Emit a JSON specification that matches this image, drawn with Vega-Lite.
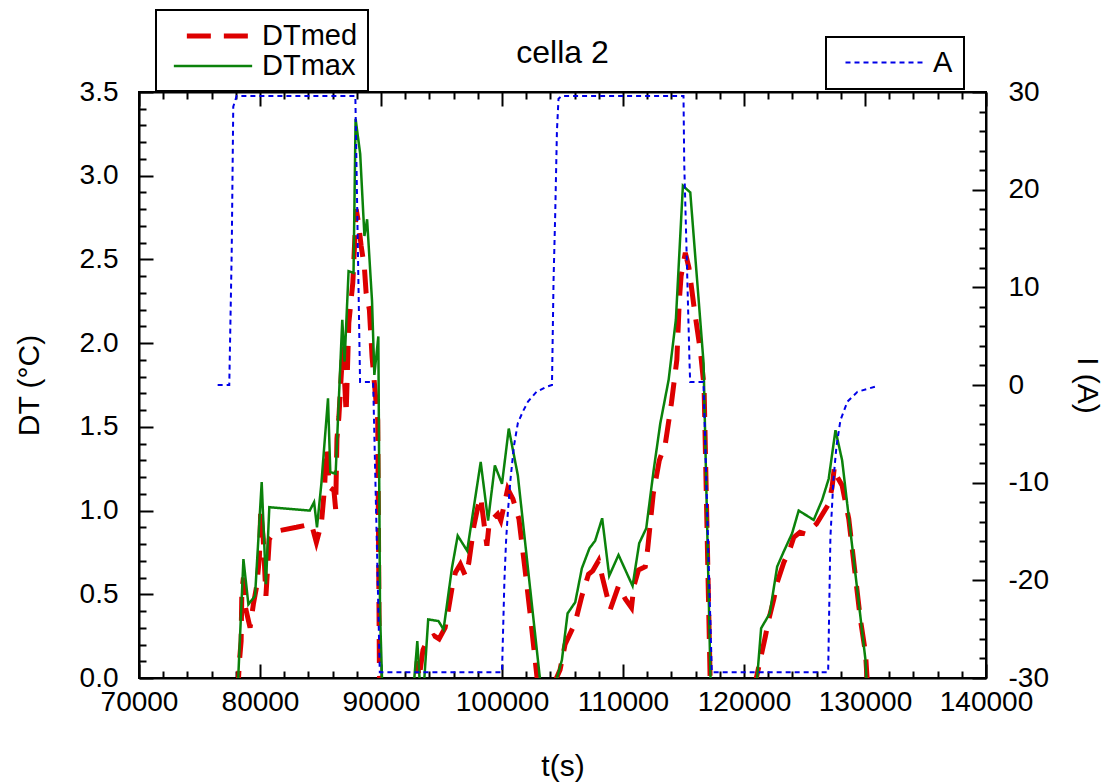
{
  "$schema": "https://vega.github.io/schema/vega-lite/v6.json",
  "width": 847,
  "height": 586,
  "autosize": "none",
  "padding": {"left": 139, "top": 92, "right": 128, "bottom": 104},
  "background": "white",
  "title": {"text": "cella 2", "fontSize": 32, "font": "Liberation Sans", "fontWeight": "normal", "color": "black", "anchor": "middle", "baseline": "alphabetic", "offset": -86},
  "config": {
    "view": {"stroke": "black", "strokeWidth": 2},
    "axis": {
      "labelFont": "Liberation Sans", "titleFont": "Liberation Sans",
      "labelFontSize": 28, "titleFontSize": 30, "titleFontWeight": "normal",
      "labelColor": "black", "titleColor": "black",
      "domainColor": "black", "domainWidth": 2,
      "tickColor": "black", "tickWidth": 2,
      "grid": false, "labelOverlap": false, "labelFlush": false, "labelBound": false
    },
    "legend": {"strokeWidth": 2}
  },
  "datasets": {
    "dt": [
      {"t": 78150, "v": -0.1, "s": "DTmed"}, {"t": 78300, "v": 0.1, "s": "DTmed"}, {"t": 78440, "v": 0.22, "s": "DTmed"}, {"t": 78500, "v": 0.52, "s": "DTmed"}, {"t": 78630, "v": 0.6, "s": "DTmed"}, {"t": 78770, "v": 0.43, "s": "DTmed"}, {"t": 79180, "v": 0.3, "s": "DTmed"}, {"t": 79450, "v": 0.44, "s": "DTmed"}, {"t": 79730, "v": 0.55, "s": "DTmed"}, {"t": 79950, "v": 0.72, "s": "DTmed"}, {"t": 80060, "v": 1.0, "s": "DTmed"}, {"t": 80270, "v": 0.83, "s": "DTmed"}, {"t": 80490, "v": 0.49, "s": "DTmed"}, {"t": 80770, "v": 0.83, "s": "DTmed"}, {"t": 81230, "v": 0.875, "s": "DTmed"}, {"t": 83010, "v": 0.9, "s": "DTmed"}, {"t": 84250, "v": 0.92, "s": "DTmed"}, {"t": 84660, "v": 0.81, "s": "DTmed"}, {"t": 85070, "v": 0.92, "s": "DTmed"}, {"t": 85340, "v": 1.14, "s": "DTmed"}, {"t": 85480, "v": 1.37, "s": "DTmed"}, {"t": 85750, "v": 1.14, "s": "DTmed"}, {"t": 86110, "v": 1.12, "s": "DTmed"}, {"t": 86250, "v": 1.01, "s": "DTmed"}, {"t": 86360, "v": 1.43, "s": "DTmed"}, {"t": 86520, "v": 1.56, "s": "DTmed"}, {"t": 86850, "v": 1.98, "s": "DTmed"}, {"t": 87120, "v": 1.58, "s": "DTmed"}, {"t": 87340, "v": 2.12, "s": "DTmed"}, {"t": 87670, "v": 2.36, "s": "DTmed"}, {"t": 87950, "v": 2.8, "s": "DTmed"}, {"t": 88140, "v": 2.72, "s": "DTmed"}, {"t": 88360, "v": 2.58, "s": "DTmed"}, {"t": 88630, "v": 2.45, "s": "DTmed"}, {"t": 88770, "v": 2.3, "s": "DTmed"}, {"t": 89040, "v": 2.2, "s": "DTmed"}, {"t": 89260, "v": 1.92, "s": "DTmed"}, {"t": 89590, "v": 1.65, "s": "DTmed"}, {"t": 89730, "v": 1.54, "s": "DTmed"}, {"t": 89870, "v": 0.03, "s": "DTmed"}, {"t": 90000, "v": -0.3, "s": "DTmed"}, {"t": 90300, "v": -1, "s": "DTmed"},
      {"t": 92600, "v": -1, "s": "DTmed"}, {"t": 92850, "v": -0.05, "s": "DTmed"}, {"t": 93000, "v": 0.1, "s": "DTmed"}, {"t": 93150, "v": 0.0, "s": "DTmed"}, {"t": 93300, "v": 0.08, "s": "DTmed"}, {"t": 93470, "v": 0.167, "s": "DTmed"}, {"t": 93880, "v": 0.233, "s": "DTmed"}, {"t": 94380, "v": 0.253, "s": "DTmed"}, {"t": 94800, "v": 0.233, "s": "DTmed"}, {"t": 95300, "v": 0.3, "s": "DTmed"}, {"t": 95600, "v": 0.42, "s": "DTmed"}, {"t": 95900, "v": 0.55, "s": "DTmed"}, {"t": 96150, "v": 0.63, "s": "DTmed"}, {"t": 96560, "v": 0.68, "s": "DTmed"}, {"t": 96980, "v": 0.61, "s": "DTmed"}, {"t": 97260, "v": 0.69, "s": "DTmed"}, {"t": 97680, "v": 0.91, "s": "DTmed"}, {"t": 98000, "v": 1.02, "s": "DTmed"}, {"t": 98240, "v": 1.08, "s": "DTmed"}, {"t": 98500, "v": 0.93, "s": "DTmed"}, {"t": 98750, "v": 0.79, "s": "DTmed"}, {"t": 98950, "v": 0.93, "s": "DTmed"}, {"t": 99640, "v": 0.98, "s": "DTmed"}, {"t": 99900, "v": 0.94, "s": "DTmed"}, {"t": 100140, "v": 1.02, "s": "DTmed"}, {"t": 100470, "v": 1.13, "s": "DTmed"}, {"t": 100900, "v": 1.07, "s": "DTmed"}, {"t": 101400, "v": 0.95, "s": "DTmed"}, {"t": 101900, "v": 0.65, "s": "DTmed"}, {"t": 102300, "v": 0.4, "s": "DTmed"}, {"t": 102900, "v": 0.0, "s": "DTmed"}, {"t": 103200, "v": -0.5, "s": "DTmed"},
      {"t": 104100, "v": -0.5, "s": "DTmed"}, {"t": 104500, "v": 0.0, "s": "DTmed"}, {"t": 104800, "v": 0.05, "s": "DTmed"}, {"t": 105210, "v": 0.2, "s": "DTmed"}, {"t": 106050, "v": 0.33, "s": "DTmed"}, {"t": 106600, "v": 0.49, "s": "DTmed"}, {"t": 107150, "v": 0.62, "s": "DTmed"}, {"t": 107500, "v": 0.64, "s": "DTmed"}, {"t": 107980, "v": 0.7, "s": "DTmed"}, {"t": 108300, "v": 0.6, "s": "DTmed"}, {"t": 108950, "v": 0.41, "s": "DTmed"}, {"t": 109630, "v": 0.55, "s": "DTmed"}, {"t": 110200, "v": 0.47, "s": "DTmed"}, {"t": 110700, "v": 0.42, "s": "DTmed"}, {"t": 110900, "v": 0.55, "s": "DTmed"}, {"t": 111280, "v": 0.645, "s": "DTmed"}, {"t": 111840, "v": 0.665, "s": "DTmed"}, {"t": 112030, "v": 0.765, "s": "DTmed"}, {"t": 112500, "v": 1.1, "s": "DTmed"}, {"t": 113000, "v": 1.3, "s": "DTmed"}, {"t": 113500, "v": 1.4, "s": "DTmed"}, {"t": 114000, "v": 1.64, "s": "DTmed"}, {"t": 114450, "v": 1.9, "s": "DTmed"}, {"t": 114650, "v": 2.25, "s": "DTmed"}, {"t": 114800, "v": 2.4, "s": "DTmed"}, {"t": 115150, "v": 2.54, "s": "DTmed"}, {"t": 115450, "v": 2.45, "s": "DTmed"}, {"t": 115900, "v": 2.2, "s": "DTmed"}, {"t": 116400, "v": 1.95, "s": "DTmed"}, {"t": 116700, "v": 1.74, "s": "DTmed"}, {"t": 117200, "v": 0.0, "s": "DTmed"}, {"t": 117400, "v": -0.5, "s": "DTmed"},
      {"t": 120800, "v": -0.5, "s": "DTmed"}, {"t": 121020, "v": 0.0, "s": "DTmed"}, {"t": 121770, "v": 0.25, "s": "DTmed"}, {"t": 122050, "v": 0.35, "s": "DTmed"}, {"t": 122460, "v": 0.47, "s": "DTmed"}, {"t": 122740, "v": 0.57, "s": "DTmed"}, {"t": 123290, "v": 0.69, "s": "DTmed"}, {"t": 123840, "v": 0.78, "s": "DTmed"}, {"t": 124110, "v": 0.84, "s": "DTmed"}, {"t": 124620, "v": 0.87, "s": "DTmed"}, {"t": 125080, "v": 0.86, "s": "DTmed"}, {"t": 125990, "v": 0.92, "s": "DTmed"}, {"t": 127000, "v": 1.04, "s": "DTmed"}, {"t": 127280, "v": 1.14, "s": "DTmed"}, {"t": 127470, "v": 1.26, "s": "DTmed"}, {"t": 127720, "v": 1.2, "s": "DTmed"}, {"t": 128110, "v": 1.15, "s": "DTmed"}, {"t": 128660, "v": 0.95, "s": "DTmed"}, {"t": 129220, "v": 0.6, "s": "DTmed"}, {"t": 129620, "v": 0.35, "s": "DTmed"}, {"t": 130040, "v": 0.15, "s": "DTmed"}, {"t": 130170, "v": 0.0, "s": "DTmed"}, {"t": 130400, "v": -0.3, "s": "DTmed"},
      {"t": 78200, "v": 0.0, "s": "DTmax"}, {"t": 78630, "v": 0.71, "s": "DTmax"}, {"t": 79040, "v": 0.44, "s": "DTmax"}, {"t": 79590, "v": 0.49, "s": "DTmax"}, {"t": 80140, "v": 1.17, "s": "DTmax"}, {"t": 80490, "v": 0.56, "s": "DTmax"}, {"t": 80770, "v": 1.02, "s": "DTmax"}, {"t": 84110, "v": 1.0, "s": "DTmax"}, {"t": 84470, "v": 1.05, "s": "DTmax"}, {"t": 84710, "v": 0.9, "s": "DTmax"}, {"t": 85070, "v": 1.16, "s": "DTmax"}, {"t": 85620, "v": 1.67, "s": "DTmax"}, {"t": 85810, "v": 1.23, "s": "DTmax"}, {"t": 86250, "v": 1.22, "s": "DTmax"}, {"t": 86800, "v": 2.14, "s": "DTmax"}, {"t": 86990, "v": 1.89, "s": "DTmax"}, {"t": 87320, "v": 2.43, "s": "DTmax"}, {"t": 87730, "v": 2.42, "s": "DTmax"}, {"t": 87900, "v": 3.34, "s": "DTmax"}, {"t": 88280, "v": 3.13, "s": "DTmax"}, {"t": 88630, "v": 2.64, "s": "DTmax"}, {"t": 88850, "v": 2.74, "s": "DTmax"}, {"t": 89260, "v": 2.25, "s": "DTmax"}, {"t": 89450, "v": 1.81, "s": "DTmax"}, {"t": 89780, "v": 2.04, "s": "DTmax"}, {"t": 89920, "v": 0.39, "s": "DTmax"}, {"t": 90080, "v": 0.0, "s": "DTmax"}, {"t": 90400, "v": -1, "s": "DTmax"},
      {"t": 92600, "v": -1, "s": "DTmax"}, {"t": 92700, "v": -0.05, "s": "DTmax"}, {"t": 93000, "v": 0.22, "s": "DTmax"}, {"t": 93200, "v": -0.02, "s": "DTmax"}, {"t": 93450, "v": -0.15, "s": "DTmax"}, {"t": 93900, "v": 0.35, "s": "DTmax"}, {"t": 94750, "v": 0.34, "s": "DTmax"}, {"t": 95170, "v": 0.29, "s": "DTmax"}, {"t": 95870, "v": 0.66, "s": "DTmax"}, {"t": 96340, "v": 0.85, "s": "DTmax"}, {"t": 97120, "v": 0.76, "s": "DTmax"}, {"t": 98240, "v": 1.29, "s": "DTmax"}, {"t": 98850, "v": 0.94, "s": "DTmax"}, {"t": 99410, "v": 1.27, "s": "DTmax"}, {"t": 100000, "v": 1.16, "s": "DTmax"}, {"t": 100560, "v": 1.49, "s": "DTmax"}, {"t": 101310, "v": 1.21, "s": "DTmax"}, {"t": 103130, "v": 0.0, "s": "DTmax"}, {"t": 103400, "v": -0.5, "s": "DTmax"},
      {"t": 104200, "v": -0.5, "s": "DTmax"}, {"t": 104540, "v": 0.0, "s": "DTmax"}, {"t": 104950, "v": 0.107, "s": "DTmax"}, {"t": 105420, "v": 0.386, "s": "DTmax"}, {"t": 106050, "v": 0.452, "s": "DTmax"}, {"t": 106600, "v": 0.655, "s": "DTmax"}, {"t": 107230, "v": 0.775, "s": "DTmax"}, {"t": 107700, "v": 0.82, "s": "DTmax"}, {"t": 108280, "v": 0.954, "s": "DTmax"}, {"t": 108860, "v": 0.61, "s": "DTmax"}, {"t": 109630, "v": 0.735, "s": "DTmax"}, {"t": 110790, "v": 0.55, "s": "DTmax"}, {"t": 111340, "v": 0.805, "s": "DTmax"}, {"t": 111920, "v": 0.894, "s": "DTmax"}, {"t": 112530, "v": 1.24, "s": "DTmax"}, {"t": 113080, "v": 1.52, "s": "DTmax"}, {"t": 113770, "v": 1.78, "s": "DTmax"}, {"t": 114370, "v": 2.14, "s": "DTmax"}, {"t": 114950, "v": 2.94, "s": "DTmax"}, {"t": 115560, "v": 2.9, "s": "DTmax"}, {"t": 116660, "v": 1.88, "s": "DTmax"}, {"t": 117210, "v": 0.07, "s": "DTmax"}, {"t": 117400, "v": -0.5, "s": "DTmax"},
      {"t": 120800, "v": -0.5, "s": "DTmax"}, {"t": 121085, "v": 0.0, "s": "DTmax"}, {"t": 121415, "v": 0.297, "s": "DTmax"}, {"t": 122130, "v": 0.386, "s": "DTmax"}, {"t": 122740, "v": 0.665, "s": "DTmax"}, {"t": 123285, "v": 0.755, "s": "DTmax"}, {"t": 123975, "v": 0.864, "s": "DTmax"}, {"t": 124520, "v": 1.0, "s": "DTmax"}, {"t": 125760, "v": 0.944, "s": "DTmax"}, {"t": 126455, "v": 1.063, "s": "DTmax"}, {"t": 127000, "v": 1.19, "s": "DTmax"}, {"t": 127560, "v": 1.48, "s": "DTmax"}, {"t": 128110, "v": 1.3, "s": "DTmax"}, {"t": 130040, "v": 0.107, "s": "DTmax"}, {"t": 130120, "v": 0.0, "s": "DTmax"}, {"t": 130300, "v": -0.3, "s": "DTmax"}
    ],
    "cur": [
      {"t": 76500, "A": 0}, {"t": 77460, "A": 0}, {"t": 77660, "A": 13.5}, {"t": 77790, "A": 28.5}, {"t": 78070, "A": 29.6},
      {"t": 87880, "A": 29.6}, {"t": 88270, "A": 0.3}, {"t": 89350, "A": 0.3}, {"t": 89900, "A": -29.4},
      {"t": 100000, "A": -29.4}, {"t": 100200, "A": -20}, {"t": 100340, "A": -15.9}, {"t": 100480, "A": -13.1}, {"t": 100700, "A": -9.7}, {"t": 100980, "A": -6.3}, {"t": 101310, "A": -3.9}, {"t": 101730, "A": -2.7}, {"t": 102150, "A": -1.7}, {"t": 102850, "A": -0.7}, {"t": 103690, "A": -0.17}, {"t": 104130, "A": 0},
      {"t": 104260, "A": 10.7}, {"t": 104400, "A": 17.6}, {"t": 104540, "A": 26}, {"t": 104670, "A": 29.3}, {"t": 104950, "A": 29.6},
      {"t": 115000, "A": 29.6}, {"t": 115060, "A": 22.7}, {"t": 115280, "A": 12.5}, {"t": 115500, "A": 2.2}, {"t": 115550, "A": 0.3}, {"t": 116650, "A": 0.3}, {"t": 117340, "A": -29.4},
      {"t": 126955, "A": -29.4}, {"t": 127140, "A": -15.6}, {"t": 127390, "A": -9.7}, {"t": 127640, "A": -6.3}, {"t": 127970, "A": -3.6}, {"t": 128550, "A": -1.7}, {"t": 129375, "A": -0.7}, {"t": 131030, "A": -0.1}
    ]
  },
  "layer": [
    {
      "data": {"name": "dt"},
      "mark": {"type": "line", "clip": true, "strokeCap": "butt"},
      "encoding": {
        "x": {
          "field": "t", "type": "quantitative",
          "scale": {"domain": [70000, 140000], "nice": false, "zero": false},
          "axis": {
            "orient": "bottom", "title": "t(s)", "titlePadding": 28,
            "values": [70000,72000,74000,76000,78000,80000,82000,84000,86000,88000,90000,92000,94000,96000,98000,100000,102000,104000,106000,108000,110000,112000,114000,116000,118000,120000,122000,124000,126000,128000,130000,132000,134000,136000,138000,140000],
            "labelExpr": "datum.value % 10000 === 0 ? '' + datum.value : ''",
            "tickSize": {"condition": {"test": "datum.value % 10000 === 0", "value": -14}, "value": -7},
            "labelPadding": 24
          }
        },
        "y": {
          "field": "v", "type": "quantitative",
          "scale": {"domain": [0, 3.5], "nice": false, "zero": false},
          "axis": {
            "orient": "left", "title": "DT (°C)", "titlePadding": 35,
            "values": [0,0.1,0.2,0.3,0.4,0.5,0.6,0.7,0.8,0.9,1,1.1,1.2,1.3,1.4,1.5,1.6,1.7,1.8,1.9,2,2.1,2.2,2.3,2.4,2.5,2.6,2.7,2.8,2.9,3,3.1,3.2,3.3,3.4,3.5],
            "labelExpr": "abs(datum.value*2 - round(datum.value*2)) < 0.001 ? format(datum.value, '.1f') : ''",
            "tickSize": {"condition": {"test": "abs(datum.value*2 - round(datum.value*2)) < 0.001", "value": -14}, "value": -7},
            "labelPadding": 35
          }
        },
        "color": {
          "field": "s", "type": "nominal",
          "scale": {"domain": ["DTmed", "DTmax"], "range": ["#dd0000", "#0b820b"]},
          "legend": {"orient": "none", "legendX": 17, "legendY": -82, "title": null, "strokeColor": "black", "fillColor": "white", "padding": 10, "labelFont": "Liberation Sans", "labelFontSize": 29, "labelColor": "black", "symbolType": "M-2.9,0L2.9,0", "symbolSize": 729, "symbolOffset": 31, "symbolDashOffset": 24, "labelOffset": 33, "rowPadding": 0, "labelLimit": 300}
        },
        "strokeDash": {
          "field": "s", "type": "nominal",
          "scale": {"domain": ["DTmed", "DTmax"], "range": [[24, 13], [1, 0]]},
          "legend": {"orient": "none", "legendX": 17, "legendY": -82, "title": null, "strokeColor": "black", "fillColor": "white", "padding": 10, "labelFont": "Liberation Sans", "labelFontSize": 29, "labelColor": "black", "symbolType": "M-2.9,0L2.9,0", "symbolSize": 729, "symbolOffset": 31, "symbolDashOffset": 24, "labelOffset": 33, "rowPadding": 0, "labelLimit": 300}
        },
        "strokeWidth": {
          "field": "s", "type": "nominal",
          "scale": {"domain": ["DTmed", "DTmax"], "range": [5, 2.5]},
          "legend": {"orient": "none", "legendX": 17, "legendY": -82, "title": null, "strokeColor": "black", "fillColor": "white", "padding": 10, "labelFont": "Liberation Sans", "labelFontSize": 29, "labelColor": "black", "symbolType": "M-2.9,0L2.9,0", "symbolSize": 729, "symbolOffset": 31, "symbolDashOffset": 24, "labelOffset": 33, "rowPadding": 0, "labelLimit": 300}
        }
      }
    },
    {
      "data": {"name": "cur"},
      "mark": {"type": "line", "clip": true, "strokeDash": [5, 4], "strokeWidth": 2},
      "encoding": {
        "x": {
          "field": "t", "type": "quantitative",
          "scale": {"domain": [70000, 140000], "nice": false, "zero": false},
          "axis": {
            "orient": "top", "title": null, "labels": false,
            "values": [70000,72000,74000,76000,78000,80000,82000,84000,86000,88000,90000,92000,94000,96000,98000,100000,102000,104000,106000,108000,110000,112000,114000,116000,118000,120000,122000,124000,126000,128000,130000,132000,134000,136000,138000,140000],
            "tickSize": {"condition": {"test": "datum.value % 10000 === 0", "value": -14}, "value": -7}
          }
        },
        "y": {
          "field": "A", "type": "quantitative",
          "scale": {"domain": [-30, 30], "nice": false, "zero": false},
          "axis": {
            "orient": "right", "title": "I (A)", "titlePadding": 23,
            "values": [-30,-28,-26,-24,-22,-20,-18,-16,-14,-12,-10,-8,-6,-4,-2,0,2,4,6,8,10,12,14,16,18,20,22,24,26,28,30],
            "labelExpr": "datum.value % 10 === 0 ? '' + datum.value : ''",
            "tickSize": {"condition": {"test": "datum.value % 10 === 0", "value": -14}, "value": -7},
            "labelPadding": 36
          }
        },
        "color": {
          "datum": "A",
          "scale": {"domain": ["A"], "range": ["#0000e8"]},
          "legend": {"orient": "none", "legendX": 687, "legendY": -55, "title": null, "strokeColor": "black", "fillColor": "white", "padding": 11, "labelFont": "Liberation Sans", "labelFontSize": 29, "labelColor": "black", "symbolType": "M-2.963,0L2.963,0", "symbolSize": 729, "symbolOffset": 34, "symbolDash": [5, 4], "symbolStrokeWidth": 2, "labelOffset": 33}
        }
      }
    }
  ],
  "resolve": {
    "scale": {"y": "independent", "color": "independent", "strokeDash": "independent", "strokeWidth": "independent"},
    "axis": {"x": "independent", "y": "independent"}
  }
}
